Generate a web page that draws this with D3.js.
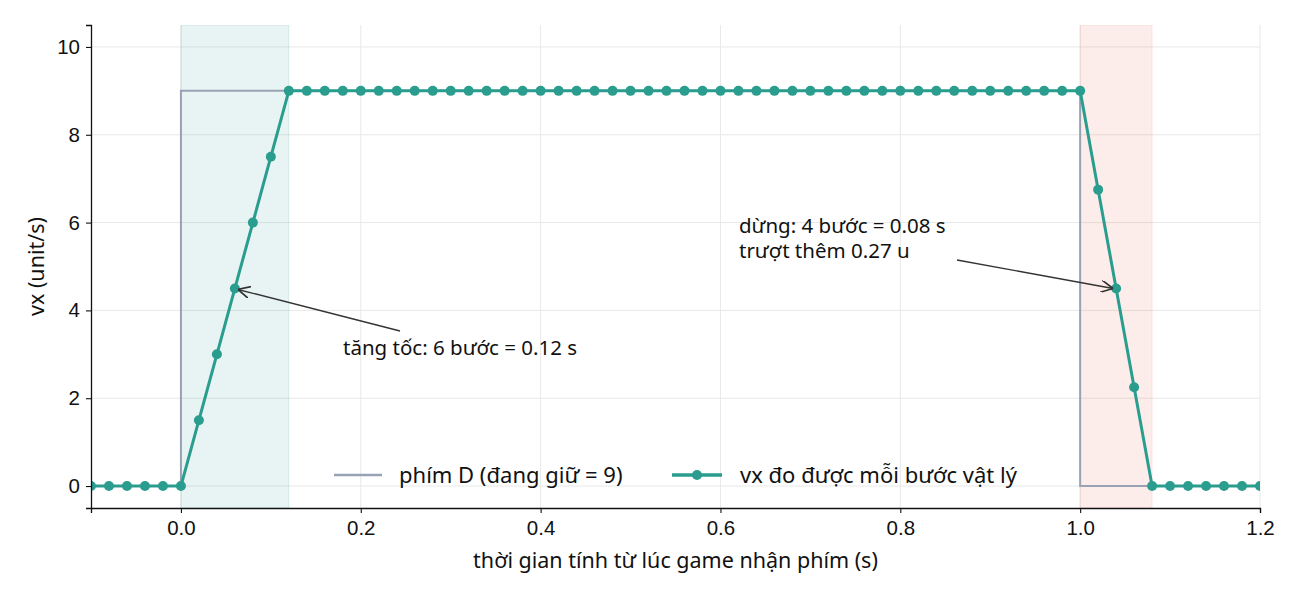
<!DOCTYPE html>
<html>
<head>
<meta charset="utf-8">
<script src="https://cdn.jsdelivr.net/npm/d3@7"></script>
<style>
  body { margin: 0; background: #fff; }
  svg { font-family: "Noto Sans", "Open Sans", sans-serif; }
  .tick text { font-size: 20.5px; fill: #111; }
</style>
</head>
<body>
<svg id="chart" width="1300" height="598"></svg>
<script>
// sample times of each physics step (s)
const stepTimes = [
  -0.10, -0.08, -0.06, -0.04, -0.02, 0.00,
  0.02, 0.04, 0.06, 0.08, 0.10, 0.12,
  0.14, 0.16, 0.18, 0.20, 0.22, 0.24, 0.26, 0.28, 0.30, 0.32, 0.34,
  0.36, 0.38, 0.40, 0.42, 0.44, 0.46, 0.48, 0.50, 0.52, 0.54, 0.56,
  0.58, 0.60, 0.62, 0.64, 0.66, 0.68, 0.70, 0.72, 0.74, 0.76, 0.78,
  0.80, 0.82, 0.84, 0.86, 0.88, 0.90, 0.92, 0.94, 0.96, 0.98, 1.00,
  1.02, 1.04, 1.06, 1.08,
  1.10, 1.12, 1.14, 1.16, 1.18, 1.20
];
const vxValues = [
  0, 0, 0, 0, 0, 0,
  1.5, 3, 4.5, 6, 7.5, 9,
  9, 9, 9, 9, 9, 9, 9, 9, 9, 9, 9,
  9, 9, 9, 9, 9, 9, 9, 9, 9, 9, 9,
  9, 9, 9, 9, 9, 9, 9, 9, 9, 9, 9,
  9, 9, 9, 9, 9, 9, 9, 9, 9, 9, 9,
  6.75, 4.5, 2.25, 0,
  0, 0, 0, 0, 0, 0
];
// key D input (step)
const keyTimes = [-0.1, 0, 1.0, 1.2];
const keyValues = [0, 9, 0, 0];

const accelSpan = [0, 0.12];
const brakeSpan = [1.0, 1.08];

const xTicks = [0, 0.2, 0.4, 0.6, 0.8, 1.0, 1.2];
const yTicks = [0, 2, 4, 6, 8, 10];

const labels = {
  x: 'thời gian tính từ lúc game nhận phím (s)',
  y: 'vx (unit/s)',
  key: 'phím D (đang giữ = 9)',
  vx: 'vx đo được mỗi bước vật lý',
  accel: 'tăng tốc: 6 bước = 0.12 s',
  brake: ['dừng: 4 bước = 0.08 s', 'trượt thêm 0.27 u'],
};

const teal = '#2a9d8f';
const gray = '#98a2b5';

const margin = { top: 25, right: 40, bottom: 90, left: 91 };
const width = 1300, height = 598;
const svg = d3.select('#chart');

const x = d3.scaleLinear().domain([-0.1, 1.2]).range([margin.left, width - margin.right]);
const y = d3.scaleLinear().domain([-0.5, 10.5]).range([height - margin.bottom, margin.top]);

svg.append('defs').append('clipPath').attr('id', 'plot-clip')
  .append('rect')
  .attr('x', x.range()[0]).attr('y', y.range()[1])
  .attr('width', x.range()[1] - x.range()[0])
  .attr('height', y.range()[0] - y.range()[1]);

svg.select('defs').append('marker')
  .attr('id', 'arrow')
  .attr('viewBox', '0 0 10 10')
  .attr('refX', 10).attr('refY', 5)
  .attr('markerWidth', 12).attr('markerHeight', 12)
  .attr('markerUnits', 'userSpaceOnUse')
  .attr('orient', 'auto')
  .append('path')
  .attr('d', 'M 0 0 L 10 5 L 0 10')
  .attr('fill', 'none')
  .attr('stroke', '#333')
  .attr('stroke-width', 1.4);

// grid
const grid = svg.append('g');
grid.selectAll('.gx').data(xTicks).join('line')
  .attr('x1', (d) => x(d)).attr('x2', (d) => x(d))
  .attr('y1', y.range()[1]).attr('y2', y.range()[0])
  .attr('stroke', '#e8e8e8').attr('stroke-width', 1);
grid.selectAll('.gy').data(yTicks).join('line')
  .attr('x1', x.range()[0]).attr('x2', x.range()[1])
  .attr('y1', (d) => y(d)).attr('y2', (d) => y(d))
  .attr('stroke', '#e8e8e8').attr('stroke-width', 1);

const plot = svg.append('g').attr('clip-path', 'url(#plot-clip)');

// shaded spans
plot.append('rect')
  .attr('x', x(accelSpan[0])).attr('width', x(accelSpan[1]) - x(accelSpan[0]))
  .attr('y', y.range()[1]).attr('height', y.range()[0] - y.range()[1])
  .attr('fill', teal).attr('fill-opacity', 0.11)
  .attr('stroke', teal).attr('stroke-opacity', 0.15);
plot.append('rect')
  .attr('x', x(brakeSpan[0])).attr('width', x(brakeSpan[1]) - x(brakeSpan[0]))
  .attr('y', y.range()[1]).attr('height', y.range()[0] - y.range()[1])
  .attr('fill', '#e76f51').attr('fill-opacity', 0.12)
  .attr('stroke', '#e76f51').attr('stroke-opacity', 0.12);

// key line
const keyLine = d3.line().x((d) => x(d[0])).y((d) => y(d[1])).curve(d3.curveStepAfter);
plot.append('path')
  .attr('d', keyLine(keyTimes.map((t, i) => [t, keyValues[i]])))
  .attr('fill', 'none').attr('stroke', gray).attr('stroke-width', 2);

// vx line
const pts = stepTimes.map((t, i) => [t, vxValues[i]]);
plot.append('path')
  .attr('d', d3.line().x((d) => x(d[0])).y((d) => y(d[1]))(pts))
  .attr('fill', 'none').attr('stroke', teal).attr('stroke-width', 3)
  .attr('stroke-linejoin', 'round');
plot.selectAll('.dot').data(pts).join('circle')
  .attr('cx', (d) => x(d[0])).attr('cy', (d) => y(d[1]))
  .attr('r', 5).attr('fill', teal);

// axes
const xAxis = svg.append('g')
  .attr('transform', `translate(0,${y.range()[0]})`)
  .call(d3.axisBottom(x).tickValues(xTicks).tickFormat(d3.format('.1f')).tickSizeOuter(0).tickSize(5).tickPadding(7));
const yAxis = svg.append('g')
  .attr('transform', `translate(${x.range()[0]},0)`)
  .call(d3.axisLeft(y).tickValues(yTicks).tickSizeOuter(0).tickSize(5).tickPadding(6));
[xAxis, yAxis].forEach((a) => {
  a.select('.domain').attr('stroke', '#111').attr('stroke-width', 1.3);
  a.selectAll('.tick line').attr('stroke', '#111').attr('stroke-width', 1.1);
});

svg.append('text')
  .attr('x', (x.range()[0] + x.range()[1]) / 2).attr('y', 568)
  .attr('text-anchor', 'middle').attr('font-size', 21.5).attr('fill', '#111')
  .text(labels.x);
svg.append('text')
  .attr('transform', `translate(44,${(y.range()[0] + y.range()[1]) / 2}) rotate(-90)`)
  .attr('text-anchor', 'middle').attr('font-size', 21.5).attr('fill', '#111')
  .text(labels.y);

// annotations
svg.append('line')
  .attr('x1', 400).attr('y1', 331)
  .attr('x2', x(stepTimes[8]) + 3).attr('y2', y(vxValues[8]) + 1)
  .attr('stroke', '#333').attr('stroke-width', 1.4).attr('marker-end', 'url(#arrow)');
svg.append('text')
  .attr('x', 343).attr('y', 355).attr('font-size', 20.5).attr('fill', '#111')
  .text(labels.accel);

svg.append('line')
  .attr('x1', 957).attr('y1', 260)
  .attr('x2', x(stepTimes[57]) - 3).attr('y2', y(vxValues[57]))
  .attr('stroke', '#333').attr('stroke-width', 1.4).attr('marker-end', 'url(#arrow)');
svg.append('text')
  .attr('x', 739).attr('y', 233).attr('font-size', 20.5).attr('fill', '#111')
  .selectAll('tspan').data(labels.brake).join('tspan')
  .attr('x', 739).attr('dy', (d, i) => (i ? 25 : 0))
  .text((d) => d);

// legend
const leg = svg.append('g').attr('transform', 'translate(334,475)');
leg.append('line').attr('x1', 0).attr('x2', 48).attr('stroke', gray).attr('stroke-width', 2.5);
leg.append('text').attr('x', 65).attr('dy', '0.35em').attr('font-size', 22).attr('fill', '#111').text(labels.key);
leg.append('line').attr('x1', 338).attr('x2', 388).attr('stroke', teal).attr('stroke-width', 3.5);
leg.append('circle').attr('cx', 363).attr('r', 5).attr('fill', teal);
leg.append('text').attr('x', 406).attr('dy', '0.35em').attr('font-size', 22).attr('fill', '#111').text(labels.vx);
</script>
</body>
</html>
